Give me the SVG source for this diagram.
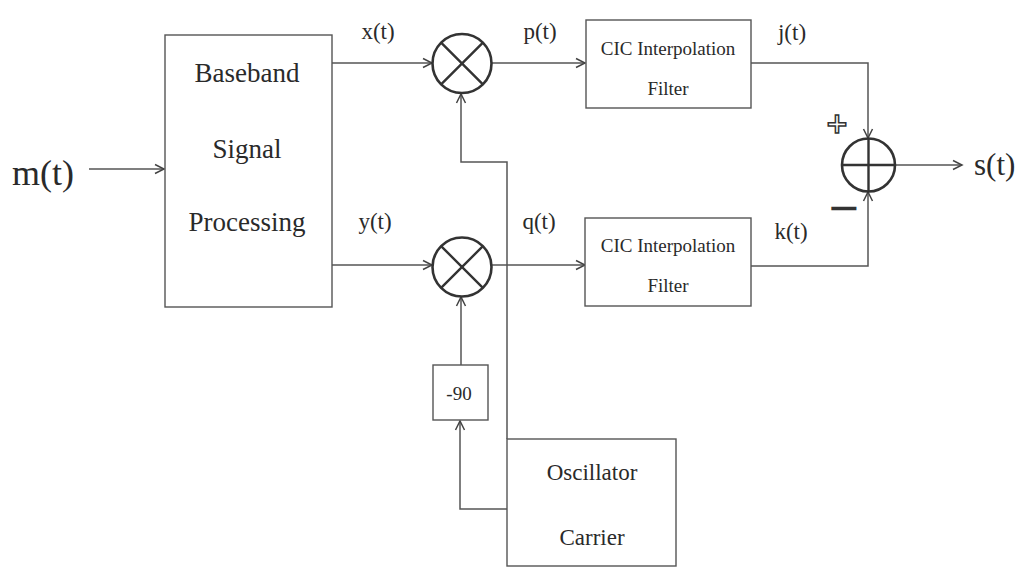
<svg xmlns="http://www.w3.org/2000/svg" width="1027" height="574" viewBox="0 0 1027 574">
  <defs>
    <marker id="arr" markerUnits="userSpaceOnUse" markerWidth="12" markerHeight="12" viewBox="0 0 12 12" refX="10" refY="6" orient="auto">
      <path d="M1,1.5 L10,6 L1,10.5" fill="none" stroke="#444" stroke-width="1.5"/>
    </marker>
  </defs>
  <style>
    .box { fill: #fff; stroke: #555; stroke-width: 1.4; }
    .op { fill: #fff; stroke: #333; stroke-width: 2.6; }
    .opl { stroke: #333; stroke-width: 2.4; fill: none; }
    .wire { fill: none; stroke: #555; stroke-width: 1.5; }
    .t { font-family: "Liberation Serif", "Times New Roman", serif; fill: #2a2a2a; }
    .lbl { font-size: 23px; text-anchor: middle; }
    .big { font-size: 27px; text-anchor: middle; }
    .cic { font-size: 19px; text-anchor: middle; }
  </style>
  <rect width="1027" height="574" fill="#fff"/>

  <g id="connectors">
    <line class="wire" x1="89" y1="169" x2="164" y2="169" marker-end="url(#arr)"/>
    <line class="wire" x1="332" y1="63" x2="432" y2="63" marker-end="url(#arr)"/>
    <line class="wire" x1="332" y1="265" x2="432" y2="265" marker-end="url(#arr)"/>
    <line class="wire" x1="492" y1="63" x2="585" y2="63" marker-end="url(#arr)"/>
    <line class="wire" x1="492" y1="265" x2="585" y2="265" marker-end="url(#arr)"/>
    <polyline class="wire" points="507,439 507,162 461,162 461,94" marker-end="url(#arr)"/>
    <line class="wire" x1="461" y1="365" x2="461" y2="297" marker-end="url(#arr)"/>
    <polyline class="wire" points="507,509 460,509 460,421" marker-end="url(#arr)"/>
    <polyline class="wire" points="751,63 868,63 868,138" marker-end="url(#arr)"/>
    <polyline class="wire" points="751,266 868,266 868,192" marker-end="url(#arr)"/>
    <line class="wire" x1="895" y1="165" x2="962" y2="165" marker-end="url(#arr)"/>
  </g>

  <g id="input">
    <text class="t" x="12" y="185" font-size="36">m(t)</text>
  </g>

  <g id="baseband">
    <rect class="box" x="165" y="35" width="167" height="272"/>
    <text class="t big" x="247" y="82">Baseband</text>
    <text class="t big" x="247" y="158">Signal</text>
    <text class="t big" x="247" y="231">Processing</text>
  </g>

  <g id="labels">
    <text class="t lbl" x="378" y="39">x(t)</text>
    <text class="t lbl" x="540" y="39">p(t)</text>
    <text class="t lbl" x="375" y="229">y(t)</text>
    <text class="t lbl" x="539" y="229">q(t)</text>
    <text class="t lbl" x="792" y="40">j(t)</text>
    <text class="t lbl" x="791" y="239">k(t)</text>
  </g>

  <g id="mixer-top">
    <circle class="op" cx="462" cy="63.5" r="29.5"/>
    <path class="opl" d="M441.1,42.6 L482.9,84.4 M482.9,42.6 L441.1,84.4"/>
  </g>

  <g id="mixer-bottom">
    <circle class="op" cx="462" cy="267" r="29.5"/>
    <path class="opl" d="M441.1,246.1 L482.9,287.9 M482.9,246.1 L441.1,287.9"/>
  </g>

  <g id="cic-top">
    <rect class="box" x="586" y="20" width="165" height="88"/>
    <text class="t cic" x="668" y="55">CIC Interpolation</text>
    <text class="t cic" x="668" y="95">Filter</text>
  </g>

  <g id="cic-bottom">
    <rect class="box" x="585" y="218" width="166" height="88"/>
    <text class="t cic" x="668" y="252">CIC Interpolation</text>
    <text class="t cic" x="668" y="292">Filter</text>
  </g>

  <g id="phase">
    <rect class="box" x="433" y="365" width="55" height="55"/>
    <text class="t" x="459" y="400" font-size="19" text-anchor="middle">-90</text>
  </g>

  <g id="oscillator">
    <rect class="box" x="507" y="439" width="169" height="127"/>
    <text class="t" x="592" y="480" font-size="23" text-anchor="middle">Oscillator</text>
    <text class="t" x="592" y="545" font-size="23" text-anchor="middle">Carrier</text>
  </g>

  <g id="summer">
    <circle class="op" cx="868.5" cy="165" r="26.5"/>
    <path class="opl" d="M842,165 L895,165 M868.5,138.5 L868.5,191.5"/>
    <text x="837" y="133" font-family="DejaVu Sans, sans-serif" font-weight="bold" font-size="28" text-anchor="middle" fill="#fff" stroke="#333" stroke-width="1.5">+</text>
    <text x="844" y="221" font-family="DejaVu Sans, sans-serif" font-size="40" text-anchor="middle" fill="#333">−</text>
  </g>

  <g id="output">
    <text class="t" x="974" y="175" font-size="31">s(t)</text>
  </g>
</svg>
